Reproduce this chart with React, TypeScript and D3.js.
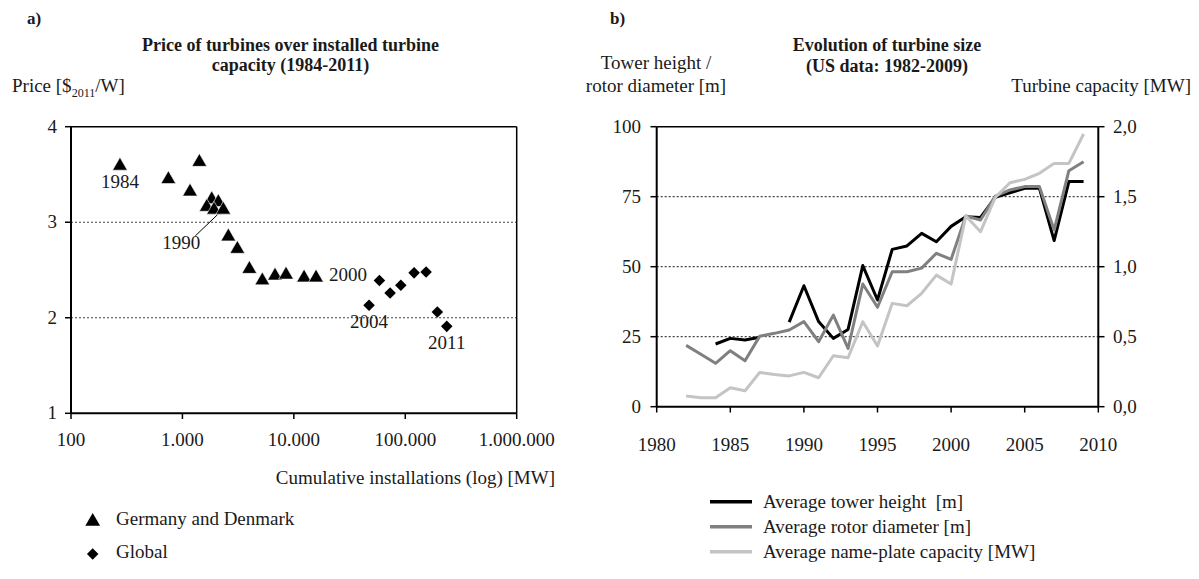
import React from 'react';
import * as d3 from 'd3';

// ---------- Panel a) data ----------
const deDkCumMW = [275, 748, 1419, 1170, 1833, 1652, 2100, 1922, 2329, 2583, 3112, 3988, 5212, 6776, 8506, 12350, 15820];
const deDkPrice = [3.60, 3.46, 3.64, 3.33, 3.25, 3.17, 3.22, 3.14, 3.14, 2.86, 2.73, 2.52, 2.40, 2.45, 2.46, 2.43, 2.43];
const globalCumMW = [47300, 58600, 73100, 91200, 120000, 153800, 194000, 235600];
const globalPrice = [2.13, 2.39, 2.26, 2.34, 2.47, 2.48, 2.06, 1.91];
const priceTicks = [1, 2, 3, 4];
const priceGrid = [2, 3];
const cumTicks = [100, 1000, 10000, 100000, 1000000];
const cumTickLabels = ['100', '1.000', '10.000', '100.000', '1.000.000'];
const legendA = ['Germany and Denmark', 'Global'];

// ---------- Panel b) data ----------
const years = [1982, 1983, 1984, 1985, 1986, 1987, 1988, 1989, 1990, 1991, 1992, 1993, 1994, 1995,
  1996, 1997, 1998, 1999, 2000, 2001, 2002, 2003, 2004, 2005, 2006, 2007, 2008, 2009];
const towerHeight = [null, null, 22.4, 24.4, 23.8, 24.8, null, 30.2, 43.2, 30.4, 24.4, 27.6, 50.4, 38.1,
  56.2, 57.4, 61.9, 58.9, 64.4, 67.8, 67.6, 74.8, 76.4, 78, 78, 59.3, 80.4, 80.4];
const rotorDiameter = [21.9, 18.7, 15.5, 20.0, 16.4, 25.2, 26.2, 27.4, 30.4, 23.2, 32.7, 20.8, 43.8, 35.5,
  48.2, 48.2, 49.5, 54.8, 52.6, 68.1, 66.7, 75.2, 77.4, 78.6, 78.6, 63.1, 84.3, 87.5];
const capacityMW = [0.076, 0.064, 0.064, 0.136, 0.114, 0.245, 0.23, 0.22, 0.245, 0.207, 0.364, 0.35, 0.607, 0.433,
  0.738, 0.721, 0.81, 0.94, 0.876, 1.362, 1.25, 1.495, 1.6, 1.624, 1.667, 1.738, 1.738, 1.948];
const yearTicks = [1980, 1985, 1990, 1995, 2000, 2005, 2010];
const meterTicks = [0, 25, 50, 75, 100];
const meterGrid = [25, 50, 75];
const mwTicks = [0, 0.5, 1, 1.5, 2];
const legendB = ['Average tower height\u00a0 [m]', 'Average rotor diameter [m]', 'Average name-plate capacity [MW]'];
const seriesColors = ['#000000', '#808080', '#c4c4c4'];

const FONT = '"Liberation Serif", "Times New Roman", serif';
const FS = 19;

export default function App() {
  // ----- panel a scales -----
  const xA = d3.scaleLog().domain([100, 1000000]).range([71, 516.7]);
  const yA = d3.scaleLinear().domain([1, 4]).range([413.3, 126.7]);
  const tri = d3.symbol().type(d3.symbolTriangle).size(95)();
  const dia = d3.symbol().type(d3.symbolDiamond2).size(85)();

  const deDk = deDkCumMW.map((c, i) => ({ x: xA(c), y: yA(deDkPrice[i]) }));
  const glob = globalCumMW.map((c, i) => ({ x: xA(c), y: yA(globalPrice[i]) }));

  // annotations (label offsets relative to their point)
  const annos = [
    { text: '1984', p: deDk[0], dx: 0, dy: 23 },
    { text: '1990', p: deDk[8], dx: -42, dy: 40 },
    { text: '2000', p: deDk[16], dx: 32, dy: 4 },
    { text: '2004', p: glob[0], dx: 0, dy: 23 },
    { text: '2011', p: glob[7], dx: 0, dy: 23 },
  ];

  // ----- panel b scales -----
  const xB = d3.scaleLinear().domain([1980, 2010]).range([656.7, 1098.3]);
  const yB = d3.scaleLinear().domain([0, 100]).range([406.7, 126.7]);
  const yB2 = d3.scaleLinear().domain([0, 2]).range([406.7, 126.7]);
  const lineM = d3.line<number | null>()
    .defined((d) => d != null)
    .x((_, i) => xB(years[i]))
    .y((d) => yB(d as number));
  const lineMW = d3.line<number>()
    .x((_, i) => xB(years[i]))
    .y((d) => yB2(d));

  const mw = (v: number) => v.toFixed(1).replace('.', ',');

  return (
    <svg width={1199} height={579} style={{ position: 'absolute', left: 0, top: 0, background: '#fff' }}
      fontFamily={FONT} fontSize={FS} fill="#1a1a1a">
      {/* ================= Panel a ================= */}
      <text x={27} y={24} fontWeight="bold" fontSize={17}>a)</text>
      <text x={290.5} y={51} textAnchor="middle" fontWeight="bold" fontSize={18}>Price of turbines over installed turbine</text>
      <text x={290.5} y={71} textAnchor="middle" fontWeight="bold" fontSize={18}>capacity (1984-2011)</text>
      <text x={12} y={92}>Price [$<tspan fontSize={12} dy={5}>2011</tspan><tspan dy={-5}>/W]</tspan></text>

      {/* grid */}
      {priceGrid.map((v) => (
        <line key={'ga' + v} x1={71} x2={516.7} y1={yA(v)} y2={yA(v)} stroke="#444" strokeWidth={1.2} strokeDasharray="2,2" />
      ))}
      {/* frame */}
      <line x1={71} x2={516.7} y1={126.7} y2={126.7} stroke="#000" strokeWidth={1.5} />
      <line x1={516.7} x2={516.7} y1={126.7} y2={413.3} stroke="#000" strokeWidth={1.5} />
      <line x1={71} x2={71} y1={126.7} y2={413.3} stroke="#000" strokeWidth={2} />
      <line x1={71} x2={516.7} y1={413.3} y2={413.3} stroke="#000" strokeWidth={2} />
      {/* y ticks */}
      {priceTicks.map((v) => (
        <g key={'ya' + v}>
          <line x1={65} x2={71} y1={yA(v)} y2={yA(v)} stroke="#000" strokeWidth={1.5} />
          <text x={57} y={yA(v) + 6} textAnchor="end">{v}</text>
        </g>
      ))}
      {/* x ticks */}
      {cumTicks.map((v, i) => (
        <g key={'xa' + v}>
          <line x1={xA(v)} x2={xA(v)} y1={413.3} y2={419} stroke="#000" strokeWidth={1.5} />
          <text x={xA(v)} y={446} textAnchor="middle">{cumTickLabels[i]}</text>
        </g>
      ))}
      <text x={555} y={484} textAnchor="end">Cumulative installations (log) [MW]</text>

      {/* points */}
      {deDk.map((p, i) => (
        <path key={'t' + i} d={tri} transform={`translate(${p.x},${p.y + 1})`} fill="#000" stroke="#fff" strokeWidth={0.6} />
      ))}
      {glob.map((p, i) => (
        <path key={'d' + i} d={dia} transform={`translate(${p.x},${p.y})`} fill="#000" />
      ))}
      {/* annotations */}
      {annos.map((a) => (
        <text key={a.text} x={a.p.x + a.dx} y={a.p.y + a.dy} textAnchor="middle">{a.text}</text>
      ))}
      <line x1={deDk[8].x - 28} y1={deDk[8].y + 27} x2={deDk[8].x - 6} y2={deDk[8].y + 6} stroke="#000" strokeWidth={1} />

      {/* legend a */}
      <path d={tri} transform="translate(92.7,521.5)" fill="#000" />
      <text x={116} y={525}>{legendA[0]}</text>
      <path d={dia} transform="translate(92.7,554)" fill="#000" />
      <text x={116} y={558}>{legendA[1]}</text>

      {/* ================= Panel b ================= */}
      <text x={610} y={24} fontWeight="bold" fontSize={17}>b)</text>
      <text x={887} y={51} textAnchor="middle" fontWeight="bold" fontSize={18}>Evolution of turbine size</text>
      <text x={887} y={72} textAnchor="middle" fontWeight="bold" fontSize={18}>(US data: 1982-2009)</text>
      <text x={656} y={69} textAnchor="middle">Tower height /</text>
      <text x={656} y={92} textAnchor="middle">rotor diameter [m]</text>
      <text x={1191} y={92} textAnchor="end">Turbine capacity [MW]</text>

      {meterGrid.map((v) => (
        <line key={'gb' + v} x1={656.7} x2={1098.3} y1={yB(v)} y2={yB(v)} stroke="#444" strokeWidth={1.2} strokeDasharray="2,2" />
      ))}
      <line x1={656.7} x2={1098.3} y1={126.7} y2={126.7} stroke="#000" strokeWidth={1.5} />
      <line x1={656.7} x2={656.7} y1={126.7} y2={406.7} stroke="#000" strokeWidth={2} />
      <line x1={1098.3} x2={1098.3} y1={126.7} y2={406.7} stroke="#000" strokeWidth={2} />
      <line x1={656.7} x2={1098.3} y1={406.7} y2={406.7} stroke="#000" strokeWidth={2} />

      {meterTicks.map((v) => (
        <g key={'yb' + v}>
          <line x1={650.5} x2={656.7} y1={yB(v)} y2={yB(v)} stroke="#000" strokeWidth={1.5} />
          <text x={641} y={yB(v) + 6} textAnchor="end">{v}</text>
        </g>
      ))}
      {mwTicks.map((v) => (
        <g key={'yb2' + v}>
          <line x1={1098.3} x2={1104.5} y1={yB2(v)} y2={yB2(v)} stroke="#000" strokeWidth={1.5} />
          <text x={1113} y={yB2(v) + 6}>{mw(v)}</text>
        </g>
      ))}
      {yearTicks.map((v) => (
        <g key={'xb' + v}>
          <line x1={xB(v)} x2={xB(v)} y1={406.7} y2={412.5} stroke="#000" strokeWidth={1.5} />
          <text x={xB(v)} y={451} textAnchor="middle">{v}</text>
        </g>
      ))}

      <path d={lineM(towerHeight) || ''} fill="none" stroke={seriesColors[0]} strokeWidth={3} strokeLinejoin="round" />
      <path d={lineM(rotorDiameter) || ''} fill="none" stroke={seriesColors[1]} strokeWidth={3} strokeLinejoin="round" />
      <path d={lineMW(capacityMW) || ''} fill="none" stroke={seriesColors[2]} strokeWidth={3} strokeLinejoin="round" />

      {legendB.map((t, i) => (
        <g key={t}>
          <line x1={710} x2={752} y1={501.7 + i * 25} y2={501.7 + i * 25} stroke={seriesColors[i]} strokeWidth={3.5} />
          <text x={763} y={508 + i * 25}>{t}</text>
        </g>
      ))}
    </svg>
  );
}
